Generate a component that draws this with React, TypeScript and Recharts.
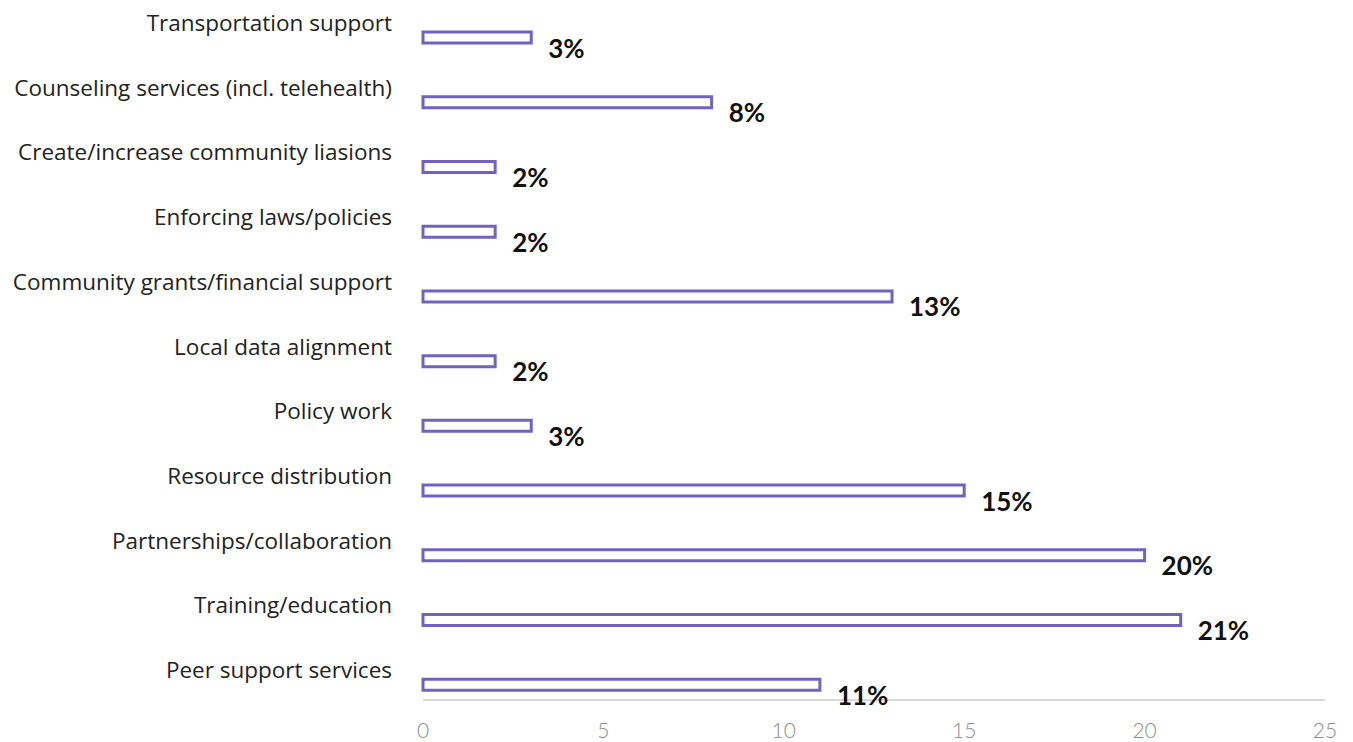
import { BarChart, Bar, XAxis, YAxis, LabelList } from "recharts";

const categories = [
  "Transportation support",
  "Counseling services (incl. telehealth)",
  "Create/increase community liasions",
  "Enforcing laws/policies",
  "Community grants/financial support",
  "Local data alignment",
  "Policy work",
  "Resource distribution",
  "Partnerships/collaboration",
  "Training/education",
  "Peer support services",
];

const shares = [3, 8, 2, 2, 13, 2, 3, 15, 20, 21, 11];

const xTicks = [0, 5, 10, 15, 20, 25];

const data = categories.map((name, i) => ({ name, value: shares[i] }));

const PURPLE = "#7262be";

function CategoryTick(props: any) {
  const { x, y, payload } = props;
  return (
    <text
      x={x}
      y={y - 15}
      textAnchor="end"
      dominantBaseline="central"
      fontFamily="'Open Sans', 'Noto Sans', sans-serif"
      fontSize={22.5}
      fill="#222"
    >
      {payload.value}
    </text>
  );
}

function ValueLabel(props: any) {
  const { x, y, width, height, value } = props;
  return (
    <text
      x={x + width + 17}
      y={y + height / 2 + 10}
      dominantBaseline="central"
      fontFamily="Lato, 'Noto Sans', sans-serif"
      fontWeight={700}
      fontSize={26}
      fill="#111"
    >
      {value}%
    </text>
  );
}

export default function App() {
  return (
    <div style={{ position: "absolute", left: 0, top: 0, background: "#fff" }}>
      <BarChart
        width={1353}
        height={742}
        data={data}
        layout="vertical"
        margin={{ top: 5, right: 28, bottom: 12, left: 0 }}
      >
        <XAxis
          type="number"
          domain={[0, 25]}
          ticks={xTicks}
          height={30}
          tickLine={false}
          tickSize={0}
          tickMargin={23}
          axisLine={{ stroke: "#d9d9d9", strokeWidth: 2 }}
          tick={{ fill: "#8c8c8c", fontSize: 21, fontFamily: "Lato, sans-serif", fontWeight: 300 }}
        />
        <YAxis
          type="category"
          dataKey="name"
          width={423}
          axisLine={false}
          tickLine={false}
          tickSize={0}
          tickMargin={31}
          padding={{ top: 0, bottom: -17 }}
          interval={0}
          tick={<CategoryTick />}
        />
        <Bar
          dataKey="value"
          barSize={11}
          fill="#fff"
          stroke={PURPLE}
          strokeWidth={3}
          isAnimationActive={false}
        >
          <LabelList dataKey="value" content={<ValueLabel />} />
        </Bar>
      </BarChart>
    </div>
  );
}
